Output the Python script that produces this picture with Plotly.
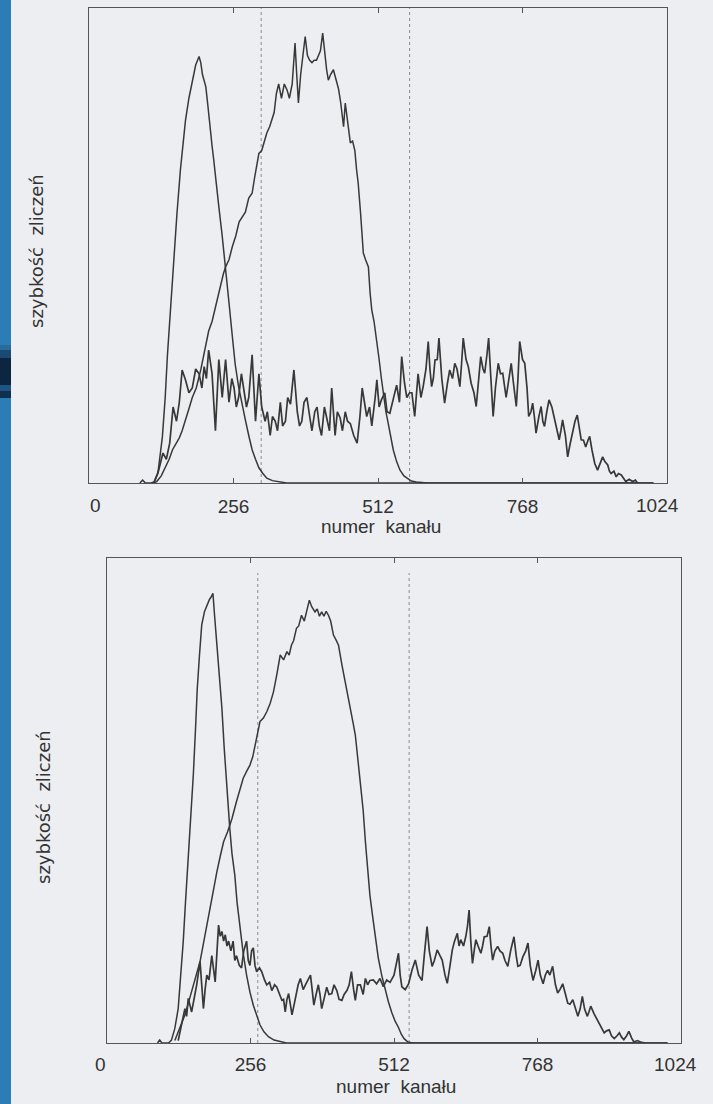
import plotly.graph_objects as go

# ---------------- data (y in % of panel height) ----------------
tick_vals = [256, 512, 768]
tick_text = ["256", "512", "768"]

top_peak_ch = [90, 95, 100, 110, 115, 122, 130, 135, 139, 145, 151, 156, 162, 166, 171, 177, 183, 189, 195, 198,
               201, 207, 211, 215, 218, 221, 225, 230, 236, 242, 248, 254, 259, 265, 271, 277, 283, 289, 295, 301,
               308, 315, 325, 336, 350, 1000]
top_peak_val = [0, 0.6, 0, 0, 0.2, 2, 9.7, 18, 27, 38, 48, 57, 66, 71, 76.4, 81, 84.8, 88, 89.8, 88.5,
                86, 83.4, 79, 73.7, 71, 68, 63, 58.2, 52, 45.5, 38, 30.8, 25, 20.3, 16.5, 13.3, 10, 7, 5, 3.2,
                2, 1, 0.5, 0.3, 0, 0]

top_hump_ch = [115, 120, 128, 136, 142, 148, 155, 160, 165, 172, 178, 183, 190, 198, 205, 212, 218, 224, 227, 233,
               238, 242, 248, 254, 260, 266, 271, 277, 283, 289, 293, 297, 301, 306, 311, 315, 320, 324, 328, 332,
               336, 341, 346, 351, 355, 360, 365, 368, 371, 375, 379, 383, 387, 391, 395, 399, 403, 407, 410, 414,
               418, 421, 424, 428, 433, 437, 442, 446, 451, 454, 458, 463, 467, 471, 474, 477, 481, 486, 490, 495,
               498, 501, 505, 510, 514, 518, 522, 526, 530, 535, 539, 545, 551, 558, 565, 571, 580, 600, 1000]
top_hump_val = [0, 0.3, 1.5, 3.4, 5, 7, 8.5, 9.5, 11, 13.5, 16, 18, 20, 23.8, 28, 32, 34, 37, 38.5, 42,
                44, 45.5, 47, 49.8, 52, 55, 56, 57, 60, 61, 64, 67, 69.4, 70, 72, 73.7, 75, 76.4, 78, 82,
                84, 81, 84, 82.7, 81, 84, 92.6, 86, 80, 86, 90, 94, 90, 89, 88.5, 89, 89, 90, 91, 94.7,
                90, 87, 84.8, 86, 87, 85, 83, 80, 75, 80, 76, 71.6, 72, 70, 66, 63, 57, 48.4, 47, 45.5,
                40, 36.4, 34, 30, 26, 22, 18, 15, 12.6, 9, 7, 4.5, 2.7, 1.5, 0.8, 0.4, 0.2, 0, 0]

top_noisy_ch = [115, 123, 131, 137, 143, 149, 155, 160, 165, 171, 177, 183, 189, 195, 200, 204, 208, 212, 218, 224,
                230, 236, 242, 248, 253, 257, 261, 265, 270, 274, 279, 283, 289, 295, 301, 306, 312, 316, 321, 325,
                330, 334, 339, 343, 348, 352, 357, 363, 369, 373, 377, 381, 386, 391, 395, 400, 404, 408, 412, 417,
                421, 426, 430, 436, 440, 445, 449, 454, 458, 463, 469, 475, 480, 484, 488, 492, 497, 501, 507, 510,
                514, 518, 524, 528, 533, 539, 545, 550, 554, 559, 563, 568, 572, 577, 583, 588, 592, 597, 601, 604,
                607, 610, 613, 617, 620, 625, 630, 635, 639, 644, 648, 652, 657, 660, 663, 668, 672, 677, 682, 686,
                690, 694, 698, 701, 705, 708, 712, 716, 720, 725, 729, 733, 739, 743, 748, 752, 757, 760, 763, 768,
                772, 776, 779, 783, 786, 789, 792, 797, 801, 804, 807, 811, 815, 820, 824, 828, 833, 836, 839, 844,
                848, 852, 857, 861, 865, 869, 872, 876, 880, 884, 887, 891, 896, 901, 905, 910, 914, 919, 922, 925,
                930, 934, 938, 943, 947, 951, 957, 963, 968, 972]
top_noisy_val = [0, 2.5, 6.3, 5, 8.4, 16, 13, 17, 23.8, 21.7, 19, 20, 24, 23, 20, 24.5, 22, 28, 23, 11,
                 26, 18, 26, 17, 22, 20, 16, 18, 23, 20, 16, 18, 27, 13, 23, 16, 13, 15, 10, 14,
                 13, 11, 17, 12, 13, 18, 16.6, 23.8, 15, 12, 13, 17, 18, 14, 11, 15, 16, 12, 10, 16,
                 14, 11, 20, 10, 15, 13.7, 11, 15, 13, 12.5, 10, 8.4, 14, 20, 17, 14, 16, 12, 18, 21.7,
                 16, 17.5, 19, 15, 14.7, 18, 20.6, 17, 26.6, 21, 18, 19, 19, 14, 23, 18, 20.3, 24, 29.8, 24,
                 20.3, 22, 25.9, 26, 30.5, 22, 16.8, 21, 23.8, 22, 25.2, 24, 20.3, 25, 30.5, 26, 24.5, 21, 19, 16.1,
                 22, 26.6, 24, 23.1, 27, 30.5, 22, 14, 20, 25.2, 23, 23.1, 18, 21, 25.2, 21, 16.1, 22, 29.8, 26,
                 25.2, 20, 14, 15, 16.8, 14, 10.5, 14, 16.1, 13, 11.9, 15, 17.5, 16, 14, 12, 9.1, 11, 13.3, 10,
                 5.5, 8, 11.2, 13, 14.3, 11, 9.1, 9, 7.6, 9, 9.8, 7, 4.1, 2.7, 4, 5.5, 4.5, 3.8, 2.5, 2.0,
                 2.5, 1.3, 2, 1.7, 1, 0.3, 0.8, 0.3, 0.6, 0]

bot_peak_ch = [90, 94, 98, 110, 115, 121, 127, 132, 136, 140, 145, 150, 154, 158, 161, 165, 169, 174, 178, 183,
               186, 189, 192, 196, 200, 205, 209, 213, 219, 223, 228, 232, 237, 243, 249, 255, 261, 267, 273, 280,
               288, 298, 309, 320, 1000]
bot_peak_val = [0, 0.6, 0, 0, 0.6, 3, 7.1, 14, 20.9, 29, 38, 49, 55.3, 65, 73, 80, 86.2, 89, 90.3, 91.5,
                92, 92.7, 88, 82.7, 76, 69, 61, 53.9, 44.3, 39, 34.6, 29, 23.6, 18.5, 14, 10.5, 7.8, 5.5, 3.7, 2.3,
                1.3, 0.6, 0.3, 0, 0]

bot_hump_ch = [121, 130, 139, 147, 154, 160, 166, 172, 178, 184, 190, 196, 202, 208, 215, 223, 231, 237, 243, 249,
               255, 260, 264, 269, 273, 279, 285, 291, 297, 303, 309, 315, 321, 325, 329, 333, 338, 342, 347, 352,
               356, 361, 365, 371, 375, 379, 383, 387, 391, 395, 399, 404, 409, 413, 419, 425, 430, 434, 439, 443,
               447, 452, 457, 461, 465, 469, 474, 478, 484, 490, 496, 502, 508, 514, 520, 525, 530, 537, 545, 1000]
bot_hump_val = [0.5, 3, 5.8, 9, 12, 14.5, 16.8, 20.5, 24.3, 27.8, 31.5, 35.3, 38.5, 41.5, 43.5, 46.3, 49.8, 52, 54.6, 56,
                57.3, 59, 61.4, 64, 66.3, 67, 68.3, 70, 72.4, 76, 80, 79, 80.7, 80, 82, 83, 85.5, 86, 88.2, 87,
                89, 91.3, 90, 88.9, 89.5, 88, 88.9, 88, 89, 88.2, 87, 84.1, 83, 82, 78, 74.5, 72, 69, 66, 63.5,
                59, 53.9, 48, 41.5, 36, 30.5, 26, 22.3, 17.5, 14, 11, 8.5, 6.3, 4.5, 3.2, 1.8, 0.9, 0.2, 0, 0]

bot_noisy_ch = [127, 133, 139, 142, 145, 151, 156, 160, 166, 169, 172, 175, 178, 182, 187, 193, 196, 199, 202, 205,
                208, 211, 214, 217, 221, 225, 228, 231, 236, 240, 244, 249, 252, 255, 258, 261, 264, 267, 272, 276,
                281, 285, 290, 294, 299, 303, 308, 312, 315, 318, 321, 324, 327, 330, 334, 338, 341, 345, 350, 354,
                358, 363, 366, 369, 373, 377, 380, 383, 387, 392, 396, 401, 405, 410, 414, 419, 423, 428, 432, 436,
                440, 443, 447, 452, 457, 461, 465, 469, 475, 481, 487, 493, 499, 505, 512, 516, 520, 523, 526, 532,
                538, 544, 550, 556, 562, 566, 571, 575, 580, 584, 589, 594, 598, 603, 607, 612, 616, 620, 625, 628,
                631, 636, 640, 643, 646, 649, 652, 655, 658, 662, 667, 670, 673, 678, 682, 685, 688, 692, 697, 701,
                706, 710, 715, 720, 726, 730, 733, 737, 742, 747, 751, 755, 760, 765, 769, 773, 778, 782, 786, 790,
                795, 800, 804, 808, 813, 818, 822, 826, 831, 836, 840, 844, 848, 852, 857, 860, 863, 869, 875, 881,
                887, 891, 896, 900, 905, 910, 914, 918, 922, 927, 931, 936, 940, 946, 952, 960]
bot_noisy_val = [0.5, 3.5, 7.1, 5.5, 9.2, 6.4, 9.5, 12, 16.8, 12, 7.1, 11, 14, 13, 18, 12.6, 20, 24.3, 22, 23,
                 21, 22.3, 20, 21, 19, 21, 17, 18, 16, 15.5, 19, 21, 17, 16, 19, 19.6, 16, 14.7, 15.5, 14.7,
                 13, 12, 12.5, 10.8, 12, 11.5, 10, 8.8, 9, 6.4, 9, 10.2, 8, 5.8, 8, 10.2, 12, 13.3, 11, 12,
                 13, 14, 11, 7.8, 10, 12, 10, 7.1, 9, 11.5, 10, 10.2, 12, 10.8, 9, 8.8, 10, 10.8, 12, 14.7,
                 11, 8.8, 12, 12, 10, 13.3, 12, 12.9, 13, 12.2, 13.3, 11.6, 13, 12.5, 14, 16, 18.5, 14, 11.6, 11,
                 12.2, 15, 17.1, 14, 12.9, 18, 24, 19, 15.8, 17, 19.2, 18, 17.1, 14, 12.3, 16, 19.2, 21, 22.6, 20,
                 21.3, 20, 21.9, 24, 27.4, 21, 16.4, 19, 21.3, 20, 18.5, 20, 21.9, 22, 24, 20, 17.1, 19, 19.9, 19,
                 18.5, 17, 15.8, 19, 21.9, 18, 15.8, 16, 17.8, 19, 20.6, 16, 12.9, 15, 17.1, 14, 12.2, 14, 15, 14,
                 15.8, 12, 10.3, 11, 12.2, 10, 8.2, 8, 8.9, 7, 5.5, 7, 9.6, 7, 5.5, 6.5, 7.6, 6, 4.8, 3.5,
                 2.1, 2.5, 2.7, 1.5, 0.9, 1.5, 2.1, 1.2, 0.7, 1.5, 2.4, 1, 0.2, 0.5, 0.2, 0]

top_markers = [305, 568]
bot_markers = [269, 539]

# ---------------- figure ----------------
W, H = 713, 1104
INK = "#383838"
PAPER = "#edeef1"
TICKFONT = dict(family="Liberation Sans", size=19, color="#333")
LABELFONT = dict(family="DejaVu Sans", size=18, color="#333")

fig = go.Figure()

def add(ch, val, ax, width=1.5):
    fig.add_trace(go.Scatter(x=ch, y=val, mode="lines", xaxis=ax[0], yaxis=ax[1],
                             line=dict(color=INK, width=width), showlegend=False, hoverinfo="skip"))

add(top_peak_ch, top_peak_val, ("x", "y"))
add(top_hump_ch, top_hump_val, ("x", "y"))
add(top_noisy_ch, top_noisy_val, ("x", "y"), 1.7)
add(bot_peak_ch, bot_peak_val, ("x2", "y2"))
add(bot_hump_ch, bot_hump_val, ("x2", "y2"))
add(bot_noisy_ch, bot_noisy_val, ("x2", "y2"), 1.7)

def px(v): return v / W
def py(v): return 1 - v / H

axcommon = dict(range=[0, 1024], showline=True, linecolor="#555", linewidth=1.2, mirror="allticks",
                ticks="inside", ticklen=5, tickcolor="#555", tickvals=tick_vals, ticktext=tick_text,
                showgrid=False, zeroline=False, fixedrange=True, tickfont=TICKFONT)
ycommon = dict(range=[0, 100], showline=True, linecolor="#555", linewidth=1.2, mirror=True,
               showticklabels=False, ticks="", showgrid=False, zeroline=False, fixedrange=True)

fig.update_layout(
    width=W, height=H, autosize=False, margin=dict(l=0, r=0, t=0, b=0),
    paper_bgcolor=PAPER, plot_bgcolor=PAPER,
    xaxis=dict(domain=[px(89), px(667)], anchor="y", ticklabelstandoff=6, **axcommon),
    yaxis=dict(domain=[py(483), py(8)], anchor="x", **ycommon),
    xaxis2=dict(domain=[px(107), px(681)], anchor="y2", ticklabelstandoff=4, **axcommon),
    yaxis2=dict(domain=[py(1043), py(558)], anchor="x2", **ycommon),
)

shapes = []
# left blue strip of the slide
shapes.append(dict(type="rect", xref="paper", yref="paper", x0=0, x1=px(11), y0=0, y1=1,
                   fillcolor="#2a7db5", line=dict(width=0), layer="above"))
for y0, y1, c in [(345, 350, "#2a6a9c"), (350, 358, "#184a74"), (358, 385, "#0c2540"),
                  (385, 391, "#1e5580"), (391, 398, "#10304f")]:
    shapes.append(dict(type="rect", xref="paper", yref="paper", x0=0, x1=px(11), y0=py(y1), y1=py(y0),
                       fillcolor=c, line=dict(width=0), layer="above"))
# dotted channel-window markers
for m in top_markers:
    shapes.append(dict(type="line", xref="x", yref="y", x0=m, x1=m, y0=0, y1=100,
                       line=dict(color="#8a8a8a", width=1, dash="dot"), layer="below"))
for m in bot_markers:
    shapes.append(dict(type="line", xref="x2", yref="y2", x0=m, x1=m, y0=0, y1=96.9,
                       line=dict(color="#8a8a8a", width=1, dash="dot"), layer="below"))
fig.update_layout(shapes=shapes)

def note(text, x, y, font, angle=0):
    return dict(text=text, xref="paper", yref="paper", x=px(x), y=py(y), xanchor="center", yanchor="middle",
                showarrow=False, font=font, textangle=angle)

ann = [
    note("0", 95, 505, TICKFONT),
    note("1024", 657, 505, TICKFONT),
    note("0", 100, 1064, TICKFONT),
    note("1024", 675, 1064, TICKFONT),
    note("numer&nbsp;&nbsp;kanału", 381, 526, TICKFONT),
    note("numer&nbsp;&nbsp;kanału", 396, 1086, TICKFONT),
    note("szybkość&nbsp;&nbsp;zliczeń", 37, 251, LABELFONT, -90),
    note("szybkość&nbsp;&nbsp;zliczeń", 43, 807, LABELFONT, -90),
]
fig.update_layout(annotations=ann)

fig.write_html("out.html")
